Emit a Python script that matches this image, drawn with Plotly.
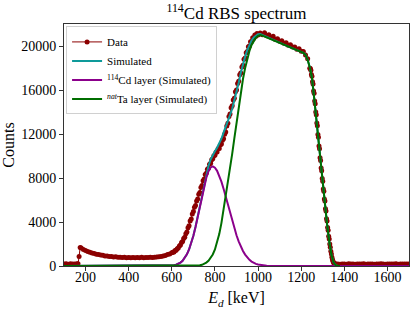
import plotly.graph_objects as go

# ---------------- Measured spectrum (energy in keV, counts) ----------------
seg1_energy = [100, 110, 120, 130, 140, 150, 160, 165, 170, 175]
seg1_counts = [175, 195, 170, 200, 185, 190, 205, 210, 870, 1690]

seg2_energy = list(range(180, 601, 10))
seg2_counts = [1630, 1490, 1420, 1310, 1260, 1180, 1140, 1070, 1050, 990,
               975, 920, 910, 860, 865, 820, 830, 790, 805, 770,
               790, 755, 775, 750, 780, 745, 770, 755, 785, 750,
               775, 765, 790, 770, 800, 810, 845, 860, 910, 950,
               1040, 1090, 1200]

seg3_energy = list(range(605, 1001, 5))
seg3_counts = [1260, 1280, 1400, 1430, 1570, 1630, 1820, 1900, 2130, 2220,
               2490, 2610, 2940, 3100, 3480, 3660, 4080, 4280, 4730, 4950,
               5340, 5500, 5920, 6100, 6520, 6690, 7140, 7320, 7760, 7920,
               8320, 8440, 8800, 8890, 9240, 9330, 9660, 9740, 10020, 10060,
               10340, 10370, 10650, 10690, 11010, 11090, 11440, 11560, 11980, 12180,
               12730, 12980, 13580, 13820, 14380, 14570, 15090, 15260, 15840, 16010,
               16590, 16800, 17390, 17550, 18090, 18250, 18790, 18900, 19390, 19500,
               19940, 20000, 20390, 20400, 20740, 20700, 20990, 20880, 21140, 21000]

seg4_energy = list(range(1010, 1241, 10))
seg4_counts = [21180, 21020, 21200, 20930, 21030, 20800, 20880, 20600, 20660, 20440,
               20470, 20250, 20300, 20060, 20110, 19900, 19920, 19700, 19760, 19520,
               19500, 19180, 18850, 17980]

seg5_energy = [1242.5, 1245, 1247.5, 1250, 1252.5, 1255, 1257.5, 1260, 1262.5, 1265,
               1267.5, 1270, 1272.5, 1275, 1277.5, 1280, 1282.5, 1285, 1287.5, 1290,
               1292.5, 1295, 1297.5, 1300, 1302.5, 1305, 1307.5, 1310, 1312.5, 1315,
               1317.5, 1320, 1322.5, 1325, 1327.5, 1330, 1332.5, 1335, 1337.5, 1340,
               1342.5, 1345, 1347.5, 1350, 1352.5, 1355, 1357.5, 1360]
seg5_counts = [17950, 17800, 17400, 17250, 16750, 16550, 15900, 15700, 15000, 14750,
               14000, 13750, 13000, 12750, 11950, 11700, 10900, 10650, 9850, 9600,
               8900, 8650, 7950, 7700, 7000, 6800, 6100, 5900, 5200, 5000,
               4300, 4100, 3500, 3250, 2700, 2450, 2000, 1700, 1350, 1100,
               800, 600, 430, 320, 250, 215, 200, 190]

seg6_energy = list(range(1370, 1701, 10))
seg6_counts = [185, 170, 190, 180, 165, 195, 175, 185, 170, 190,
               180, 175, 195, 170, 185, 180, 190, 165, 185, 175,
               195, 180, 170, 190, 185, 175, 180, 195, 170, 185,
               180, 190, 175, 185]

data_energy = seg1_energy + seg2_energy + seg3_energy + seg4_energy + seg5_energy + seg6_energy
data_counts = seg1_counts + seg2_counts + seg3_counts + seg4_counts + seg5_counts + seg6_counts

# ---------------- Simulated components ----------------
sim_energy = [100] + list(range(550, 1401, 10)) + [1700]

cd_counts = [0,
             0, 0, 5, 10, 20, 40, 68, 118, 195, 310,
             480, 725, 1060, 1500, 2065, 2750, 3550, 4440, 5390, 6350,
             7250, 8020, 8610, 8960, 9050, 8930, 8650, 8220, 7670, 7020,
             6310, 5565, 4815, 4090, 3410, 2790, 2240, 1765, 1365, 1035,
             770, 565, 405, 285, 197, 133, 88, 55, 35, 20,
             10,
             0, 0, 0, 0, 0, 0, 0, 0, 0, 0,
             0, 0, 0, 0, 0, 0, 0, 0, 0, 0,
             0, 0, 0, 0, 0, 0, 0, 0, 0, 0,
             0, 0, 0, 0, 0,
             0]

ta_counts = [0,
             0, 0, 0, 0, 0, 0, 0, 0, 0, 0, 0, 0, 0, 0, 0,
             5, 15, 30, 60, 110, 190, 310, 480, 720, 1050,
             1500, 2100, 2900, 3900, 5100, 6300, 7600, 8900, 10200, 11600,
             13000, 14400, 15800, 17000, 18000, 18850, 19550, 20100, 20500, 20750,
             20930, 21000, 20940, 20860, 20780, 20700, 20610, 20530, 20450, 20370,
             20290, 20200, 20120, 20040, 19960, 19870, 19790, 19710, 19630, 19540,
             19460, 19370, 19200, 18750, 18050, 17100, 15300, 13400, 11300, 9200,
             7300, 5500, 3800, 2250, 1050, 330, 70, 0, 0, 0,
             0,
             0]

total_counts = [c + t for c, t in zip(cd_counts, ta_counts)]

# Ta curve drawn up to 1380 keV
ta_end = sim_energy.index(1380) + 1

x_ticks = [200, 400, 600, 800, 1000, 1200, 1400, 1600]
y_ticks = [0, 4000, 8000, 12000, 16000, 20000]

fig = go.Figure()
fig.add_trace(go.Scatter(
    x=data_energy, y=data_counts, mode="lines+markers", name="Data",
    line=dict(color="#8B0000", width=1),
    marker=dict(color="#8B0000", size=5, line=dict(width=0)),
))
fig.add_trace(go.Scatter(
    x=sim_energy, y=total_counts, mode="lines", name="Simulated",
    line=dict(color="#0E9A9A", width=2),
))
fig.add_trace(go.Scatter(
    x=sim_energy, y=cd_counts, mode="lines", name="<sup>114</sup>Cd layer (Simulated)",
    line=dict(color="#8B008B", width=2),
))
fig.add_trace(go.Scatter(
    x=sim_energy[:ta_end], y=ta_counts[:ta_end], mode="lines",
    name="<sup><span style='color:#000000;font-style:italic'>nat</span></sup>Ta layer (Simulated)",
    line=dict(color="#006E00", width=2),
))

axis_common = dict(
    showline=True, linecolor="#333", linewidth=1, mirror=True,
    ticks="outside", ticklen=4, tickcolor="#333", tickwidth=1,
    showgrid=False, zeroline=False, tickfont=dict(size=14),
)

fig.update_layout(
    width=415, height=311,
    margin=dict(l=64, r=6, t=24, b=45),
    plot_bgcolor="white", paper_bgcolor="white",
    font=dict(family="Liberation Serif", size=14, color="black"),
    title=dict(text="<sup>114</sup>Cd RBS spectrum", x=0.5, xref="paper",
               xanchor="center", y=0.958, yref="container", yanchor="middle",
               font=dict(size=17)),
    legend=dict(x=0.006, y=0.99, xanchor="left", yanchor="top",
                bgcolor="rgba(255,255,255,0.85)", bordercolor="#d0d0d0",
                borderwidth=1, font=dict(size=11)),
    xaxis=dict(range=[100, 1700], tickvals=x_ticks, ticklabelstandoff=-6,
               title=dict(text="<i>E<sub>d</sub></i> [keV]", font=dict(size=16), standoff=8),
               **axis_common),
    yaxis=dict(range=[0, 22000], tickvals=y_ticks, tickformat="d",
               title=dict(text="Counts", font=dict(size=16), standoff=3),
               **axis_common),
)

# remove the default 8px body margin of the page so the figure fills the window
fig.write_html("out.html", config={"displayModeBar": False},
               post_script="document.body.style.margin='0';")
